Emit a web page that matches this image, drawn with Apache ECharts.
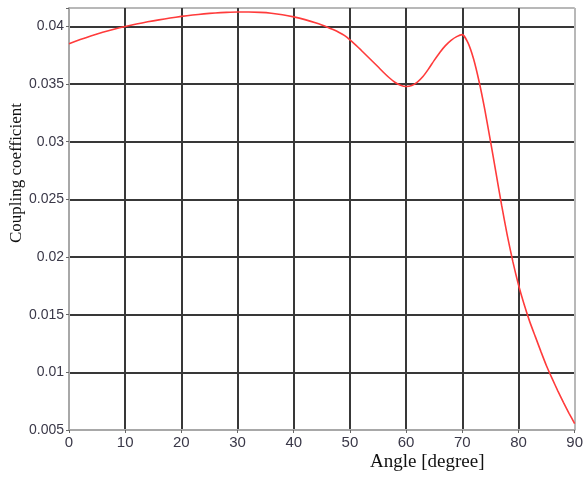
<!DOCTYPE html>
<html>
<head>
<meta charset="utf-8">
<script src="https://cdn.jsdelivr.net/npm/echarts@6/dist/echarts.min.js"></script>
<style>html,body{margin:0;padding:0;background:#fff}#c{width:586px;height:479px}</style>
</head>
<body>
<div id="c"></div>
<script>
var angles = [0, 2, 4, 6, 8, 10, 12, 14, 16, 18, 20, 22, 24, 26, 28, 30, 32, 34, 36, 38, 40, 42, 44,
  45, 46, 47, 48, 49, 50, 51, 52, 53, 54, 55, 56, 57, 58, 59, 60, 61, 62, 63, 64, 65, 66, 67, 68, 69, 70,
  71, 72, 73, 74, 75, 76, 77, 78, 79, 80, 81, 82, 83, 84, 85, 86, 87, 88, 89, 90];
var coupling = [0.03850, 0.03886, 0.03919, 0.03949, 0.03976, 0.04000, 0.04021, 0.04040, 0.04057, 0.04073, 0.04087, 0.04099, 0.04109, 0.04117, 0.04122, 0.04125, 0.04125, 0.04122, 0.04115, 0.04102, 0.04083, 0.04059, 0.04030,
  0.04013, 0.03994, 0.03973, 0.03950, 0.03922, 0.03884, 0.03840, 0.03794, 0.03746, 0.03698, 0.03650, 0.03601, 0.03555, 0.03516, 0.03490, 0.03479, 0.03488, 0.03517, 0.03565, 0.03632, 0.03706, 0.03775, 0.03834, 0.03880, 0.03912, 0.03929,
  0.03860, 0.03720, 0.03520, 0.03280, 0.03010, 0.02730, 0.02450, 0.02190, 0.01960, 0.01760, 0.01590, 0.01440, 0.01310, 0.01180, 0.01055, 0.00945, 0.00840, 0.00740, 0.00645, 0.00555];
var xTicks = [0, 10, 20, 30, 40, 50, 60, 70, 80, 90];
var yTicks = [0.005, 0.01, 0.015, 0.02, 0.025, 0.03, 0.035, 0.04];
var xTitle = 'Angle [degree]';
var yTitle = 'Coupling coefficient';

var data = angles.map(function (a, i) { return [a, coupling[i]]; });
var labelFont = '"Liberation Sans Narrow", "Liberation Sans", sans-serif';
var chart = echarts.init(document.getElementById('c'));
chart.setOption({
  animation: false,
  grid: { left: 69, right: 4, top: 8, bottom: 49, show: true, borderColor: '#b8b8b8', borderWidth: 1 },
  xAxis: {
    type: 'value', min: 0, max: 90, interval: 10,
    axisLine: { show: true, lineStyle: { color: '#a8a8a8', width: 2 } },
    axisTick: { show: true, length: 3, lineStyle: { color: '#666' } },
    axisLabel: { color: '#3a3848', fontFamily: labelFont, fontSize: 15, margin: 5,
      formatter: function (v) { return xTicks.indexOf(v) >= 0 ? String(v) : ''; } },
    splitLine: { show: true, lineStyle: { color: ['#b8b8b8', '#383838', '#383838', '#383838', '#383838', '#383838', '#383838', '#383838', '#383838', '#b8b8b8'], width: 2 } }
  },
  yAxis: {
    type: 'value', min: 0.005, max: 0.0416, interval: 0.005,
    axisLine: { show: true, lineStyle: { color: '#a8a8a8', width: 2 } },
    axisTick: { show: true, length: 3, lineStyle: { color: '#666' } },
    axisLabel: { color: '#3a3848', fontFamily: labelFont, fontSize: 14, margin: 5,
      formatter: function (v) {
        for (var i = 0; i < yTicks.length; i++) { if (Math.abs(yTicks[i] - v) < 1e-9) return String(yTicks[i]); }
        return '';
      } },
    splitLine: { show: true, lineStyle: { color: ['#b8b8b8', '#383838', '#383838', '#383838', '#383838', '#383838', '#383838', '#383838', '#b8b8b8'], width: 2 } }
  },
  graphic: [
    { type: 'text', left: 370, top: 453, style: { text: xTitle, fill: '#111', font: '19px "Liberation Serif", "DejaVu Serif", serif' } },
    { type: 'text', x: 8, y: 243, rotation: Math.PI / 2, style: { text: yTitle, fill: '#111', font: '17px "Liberation Serif", "DejaVu Serif", serif' } }
  ],
  series: [{
    type: 'line', data: data, smooth: 0.2, showSymbol: false,
    lineStyle: { color: '#ff3b3b', width: 1.6 }, clip: true
  }]
});
</script>
</body>
</html>
